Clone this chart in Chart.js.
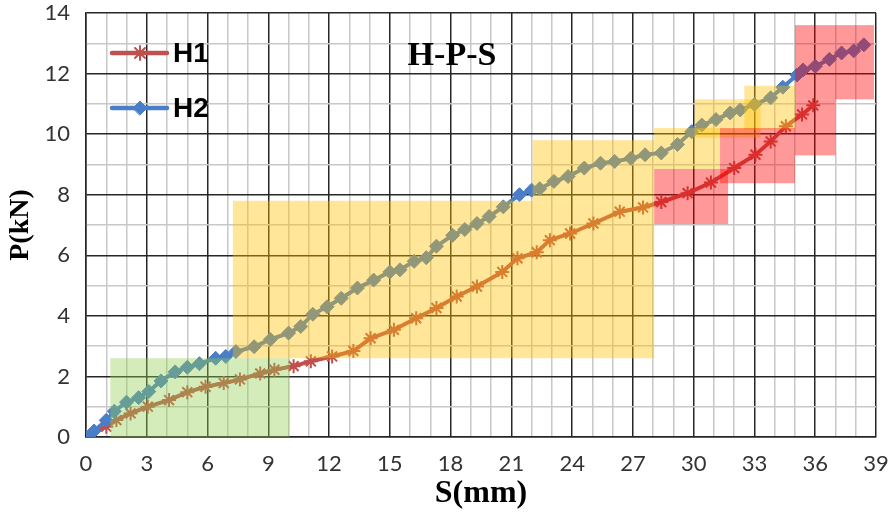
<!DOCTYPE html>
<html>
<head>
<meta charset="utf-8">
<script src="https://cdn.jsdelivr.net/npm/chart.js@4/dist/chart.umd.min.js"></script>
<style>
  html, body { margin: 0; padding: 0; background: #fff; }
</style>
</head>
<body>
<canvas id="chart" width="891" height="516"></canvas>
<script>
// H1 series (stars)
var h1X = [0, 1.0, 1.5, 2.2, 3.05, 4.1, 5.0, 5.9, 6.8, 7.6, 8.6, 9.3, 10.25, 11.1, 12.15, 13.2, 14.05, 15.2, 16.3, 17.3,
           18.3, 19.3, 20.55, 21.3, 22.25, 22.9, 23.9, 25.05, 26.35, 27.5, 28.4, 29.7, 30.85, 32.0, 33.05, 33.8, 34.55, 35.35, 35.9];
var h1Y = [0.05, 0.34, 0.56, 0.78, 1.0, 1.22, 1.48, 1.66, 1.78, 1.9, 2.1, 2.22, 2.34, 2.5, 2.66, 2.84, 3.26, 3.54, 3.92, 4.26,
           4.64, 4.97, 5.45, 5.9, 6.1, 6.5, 6.72, 7.05, 7.44, 7.58, 7.76, 8.05, 8.4, 8.88, 9.32, 9.76, 10.26, 10.65, 10.95];

// H2 series (diamonds)
var h2X = [0, 0.4, 1.0, 1.4, 2.0, 2.6, 3.1, 3.7, 4.4, 5.0, 5.6, 6.4, 6.9, 7.4, 8.3, 9.1, 10.0, 10.6, 11.2, 11.9,
           12.6, 13.4, 14.2, 15.0, 15.5, 16.2, 16.8, 17.3, 18.1, 18.7, 19.3, 19.9, 20.6, 21.4, 22.0, 22.4, 23.1, 23.8, 24.6, 25.4,
           26.1, 26.9, 27.6, 28.4, 29.2, 29.9, 30.4, 31.1, 31.8, 32.3, 33.0, 33.8, 34.4, 35.1, 35.4, 36.0, 36.7, 37.3, 37.9, 38.4];
var h2Y = [0, 0.2, 0.55, 0.85, 1.15, 1.3, 1.5, 1.85, 2.15, 2.3, 2.42, 2.6, 2.66, 2.82, 2.98, 3.22, 3.43, 3.65, 4.05, 4.3,
           4.58, 4.92, 5.18, 5.45, 5.52, 5.8, 5.92, 6.3, 6.66, 6.85, 7.05, 7.28, 7.6, 8.0, 8.15, 8.2, 8.44, 8.6, 8.88, 9.04,
           9.1, 9.2, 9.32, 9.38, 9.66, 10.08, 10.3, 10.48, 10.7, 10.8, 10.98, 11.2, 11.55, 11.95, 12.12, 12.24, 12.47, 12.68, 12.75, 12.95];

var xTickLabels = [0, 3, 6, 9, 12, 15, 18, 21, 24, 27, 30, 33, 36, 39];
var yTickLabels = [0, 2, 4, 6, 8, 10, 12, 14];

// shaded zones: [S from, S to, P from, P to, kind]
var zones = [
    [1.2, 10.05, 0, 2.6, 'g'],
    [7.25, 28.05, 2.6, 7.8, 'y'],
    [22.05, 28.05, 7.8, 9.8, 'y'],
    [28.05, 31.3, 8.85, 10.2, 'y'],
    [30.05, 33.3, 9.88, 11.15, 'y'],
    [32.5, 35.0, 10.15, 11.6, 'y'],
    [28.05, 31.7, 7.03, 8.85, 'r'],
    [31.3, 35.0, 8.38, 10.2, 'r'],
    [35.0, 37.0, 9.3, 11.15, 'r'],
    [35.0, 38.9, 11.15, 13.6, 'r']
];

var zoneColors = { g: 'rgba(146,208,80,0.4)', y: 'rgba(255,192,0,0.4)', r: 'rgba(255,0,0,0.4)' };
var red = '#C0504D';
var blue = '#4A7EC6';

function toPoints(xs, ys) {
    return xs.map(function(v, i){ return {x: v, y: ys[i]}; });
}

// zones on top of lines, then legend and title
var overlay = {
    id: 'overlay',
    afterDatasetsDraw: function(chart) {
        var ctx = chart.ctx, x = chart.scales.x, y = chart.scales.y;
        ctx.save();
        zones.forEach(function(z){
            var l = x.getPixelForValue(z[0]), r = x.getPixelForValue(z[1]);
            var t = y.getPixelForValue(z[3]), b = y.getPixelForValue(z[2]);
            ctx.fillStyle = zoneColors[z[4]];
            ctx.fillRect(l, t, r - l, b - t);
        });
        ctx.restore();
    },
    afterDraw: function(chart) {
        var ctx = chart.ctx;
        ctx.save();
        // legend
        chart.data.datasets.forEach(function(ds, i){
            var cy = i === 0 ? 53 : 108;
            ctx.strokeStyle = ds.borderColor;
            ctx.lineWidth = 4.5;
            ctx.lineCap = 'round';
            ctx.beginPath();
            ctx.moveTo(112, cy);
            ctx.lineTo(167, cy);
            ctx.stroke();
            ctx.fillStyle = ds.pointBackgroundColor;
            ctx.strokeStyle = ds.pointBorderColor;
            ctx.lineWidth = ds.pointBorderWidth;
            Chart.helpers.drawPoint(ctx, {pointStyle: ds.pointStyle, radius: ds.pointRadius, borderWidth: ds.pointBorderWidth}, 140, cy);
            ctx.fillStyle = '#000';
            ctx.font = 'bold 28px "Liberation Sans"';
            ctx.textAlign = 'left';
            ctx.textBaseline = 'middle';
            ctx.fillText(ds.label, 173, cy + 1);
        });
        // title
        ctx.font = 'bold 34px "Liberation Serif"';
        ctx.textAlign = 'center';
        ctx.fillText('H-P-S', 452, 56);
        ctx.restore();
    }
};

function gridColor(step) {
    return function(c) {
        if (!c.tick) return '#c8c8c8';
        return Math.round(c.tick.value) % step === 0 ? '#262626' : '#c8c8c8';
    };
}

new Chart(document.getElementById('chart'), {
    type: 'line',
    data: {
        datasets: [
            {
                label: 'H1',
                data: toPoints(h1X, h1Y),
                borderColor: red,
                borderWidth: 4,
                pointStyle: 'star',
                pointRadius: 7,
                pointBorderWidth: 2,
                pointBorderColor: red,
                pointBackgroundColor: red,
                tension: 0,
                order: 1
            },
            {
                label: 'H2',
                data: toPoints(h2X, h2Y),
                borderColor: blue,
                borderWidth: 4,
                pointStyle: 'rectRot',
                pointRadius: 7,
                pointBorderWidth: 1,
                pointBorderColor: blue,
                pointBackgroundColor: blue,
                tension: 0,
                order: 0
            }
        ]
    },
    options: {
        responsive: false,
        animation: false,
        layout: { padding: { top: 13, right: 15, left: 0, bottom: 0 } },
        plugins: {
            legend: { display: false },
            tooltip: { enabled: false }
        },
        scales: {
            x: {
                type: 'linear',
                min: 0,
                max: 39,
                afterFit: function(s){ s.height = 79; s.paddingLeft = 0; s.paddingRight = 0; },
                ticks: {
                    stepSize: 1,
                    autoSkip: false,
                    maxRotation: 0,
                    padding: 14,
                    color: '#333',
                    font: { family: 'Lato', size: 22 },
                    callback: function(v){ return xTickLabels.indexOf(v) >= 0 ? String(v) : ''; }
                },
                grid: { color: gridColor(3), lineWidth: 1.5, drawTicks: false },
                border: { color: '#262626', width: 1.5 },
                title: {
                    display: true,
                    text: 'S(mm)',
                    color: '#000',
                    font: { family: 'Liberation Serif', size: 32, weight: 'bold', lineHeight: 1 },
                    padding: { bottom: 6 }
                }
            },
            y: {
                min: 0,
                max: 14,
                afterFit: function(s){ s.width = 86; s.paddingTop = 0; s.paddingBottom = 0; },
                ticks: {
                    stepSize: 1,
                    autoSkip: false,
                    padding: 16,
                    color: '#333',
                    font: { family: 'Lato', size: 22 },
                    callback: function(v){ return yTickLabels.indexOf(v) >= 0 ? String(v) : ''; }
                },
                grid: { color: gridColor(2), lineWidth: 1.5, drawTicks: false },
                border: { color: '#262626', width: 1.5 },
                title: {
                    display: true,
                    text: 'P(kN)',
                    color: '#000',
                    font: { family: 'Liberation Serif', size: 28, weight: 'bold', lineHeight: 1 },
                    padding: { top: 7 }
                }
            }
        }
    },
    plugins: [overlay]
});
</script>
</body>
</html>
